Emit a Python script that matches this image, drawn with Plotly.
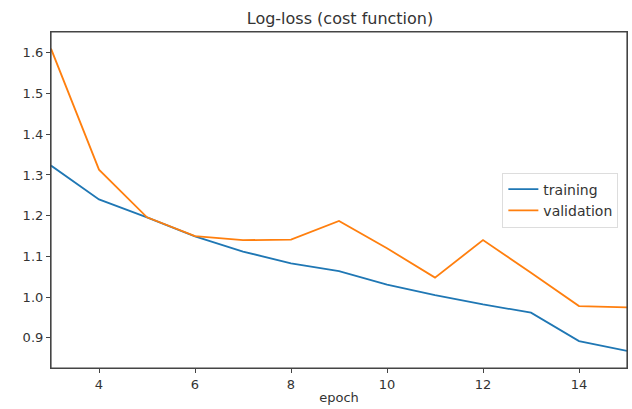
import plotly.graph_objects as go

epochs = list(range(3, 16))
training = [1.323, 1.240, 1.196, 1.149, 1.112, 1.083, 1.064, 1.031, 1.005, 0.982, 0.962, 0.892, 0.868]
validation = [1.610, 1.313, 1.196, 1.150, 1.140, 1.141, 1.187, 1.120, 1.048, 1.140, 1.060, 0.978, 0.975]
x_ticks = [4, 6, 8, 10, 12, 14]
y_ticks = [0.9, 1.0, 1.1, 1.2, 1.3, 1.4, 1.5, 1.6]

FONT = "DejaVu Sans"
TXT = "#333333"

fig = go.Figure()
fig.add_trace(go.Scatter(x=epochs, y=training, mode="lines", name="training",
                         line=dict(color="#1f77b4", width=1.8)))
fig.add_trace(go.Scatter(x=epochs, y=validation, mode="lines", name="validation",
                         line=dict(color="#ff7f0e", width=1.8)))

axis_common = dict(showgrid=False, zeroline=False, showline=True, mirror=True,
                   linecolor="#444444", linewidth=1.2, ticks="outside", ticklen=4,
                   tickcolor="#444444", tickfont=dict(family=FONT, size=13, color=TXT))

fig.add_shape(type="rect", xref="paper", yref="paper", x0=0, y0=0, x1=1, y1=1,
              line=dict(color="#444444", width=1.2), fillcolor="rgba(0,0,0,0)", layer="above")

fig.update_layout(
    width=632, height=409,
    margin=dict(l=51, r=5, t=32, b=41),
    paper_bgcolor="white", plot_bgcolor="white",
    title=dict(text="Log-loss (cost function)", x=340 / 632, xanchor="center",
               y=1 - 18 / 409, yanchor="middle",
               font=dict(family=FONT, size=16, color=TXT)),
    xaxis=dict(range=[3, 15], tickvals=x_ticks,
               title=dict(text="epoch", standoff=2, font=dict(family=FONT, size=13, color=TXT)),
               **axis_common),
    yaxis=dict(range=[0.826, 1.651], tickvals=y_ticks, ticktext=[f"{v:.1f}" for v in y_ticks],
               **axis_common),
    legend=dict(x=0.985, y=0.5, xanchor="right", yanchor="middle",
                bgcolor="rgba(255,255,255,0.8)", bordercolor="#dddddd", borderwidth=1,
                tracegroupgap=0, itemwidth=30,
                font=dict(family=FONT, size=14, color=TXT)),
    showlegend=True,
)

fig.write_html("out.html", config={"displayModeBar": False},
               post_script="document.body.style.margin='0';")
